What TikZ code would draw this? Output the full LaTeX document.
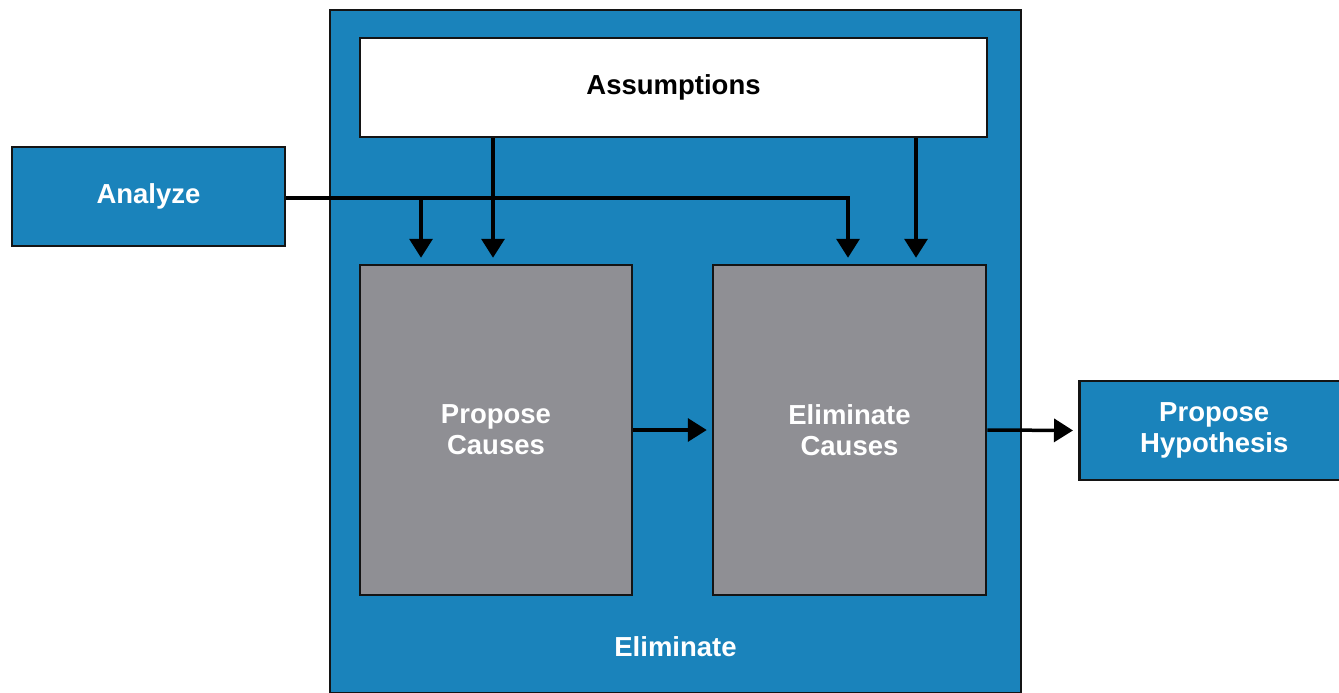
\documentclass[tikz,border=0pt]{standalone}
\usepackage{fontspec}
\setmainfont{Liberation Sans}
\usetikzlibrary{arrows.meta,calc}
\definecolor{procblue}{RGB}{26,131,187}
\definecolor{procgray}{RGB}{143,143,148}
\definecolor{edge}{RGB}{20,20,20}
\tikzset{
  boxfont/.style={font=\bfseries\fontsize{27.5}{31}\selectfont},
  box/.style={draw=edge, line width=2.5pt, rectangle, inner sep=0pt,
              boxfont, align=center},
  bluebox/.style={box, fill=procblue, text=white},
  graybox/.style={box, fill=procgray, text=white},
  whitebox/.style={box, fill=white, text=black},
  flow/.style={draw=black, line width=3.5pt,
               -{Triangle[length=19pt,width=23pt]}, shorten >=6pt},
  wire/.style={draw=black, line width=3.5pt}
}
\begin{document}
\begin{tikzpicture}[x=1pt,y=-1pt]
  \useasboundingbox (0,0) rectangle (1339,693);
  % outer Eliminate stage
  \node[bluebox, minimum width=691pt, minimum height=683pt] (elim) at (675.5,351.5) {};
  \node[boxfont, text=white] (elimlabel) at (675.5,647) {Eliminate};
  % inner boxes
  \node[whitebox, minimum width=627pt, minimum height=99pt] (assume) at (673.5,87.5) {Assumptions};
  \node[graybox, minimum width=272pt, minimum height=330pt] (pc) at (496,430) {Propose\\Causes};
  \node[graybox, minimum width=273pt, minimum height=330pt] (ec) at (849.5,430) {Eliminate\\Causes};
  % outside boxes
  \node[bluebox, minimum width=273pt, minimum height=99pt] (analyze) at (148.5,196.5) {Analyze};
  \node[bluebox, minimum width=270pt, minimum height=99pt, anchor=west] (hyp) at (1078,430.5) {Propose\\Hypothesis};
  % Analyze feeds both steps
  \coordinate (split) at (421,198);
  \draw[wire] (analyze.east |- split) -- (split);
  \draw[flow] (split) -- (split |- pc.north);
  \draw[flow] (split) -| ($(ec.north)+(-1.5,0)$);
  % Assumptions feed both steps
  \draw[flow] ($(assume.south)+(-180.5,0)$) -- ($(pc.north)+(-3,0)$);
  \draw[flow] ($(assume.south)+(242.5,0)$) -- ($(ec.north)+(66.5,0)$);
  % main flow
  \draw[flow, shorten >=5pt] (pc.east) -- (ec.west);
  \draw[flow, shorten >=5pt] (ec.east) -- (hyp.west);
\end{tikzpicture}
\end{document}
